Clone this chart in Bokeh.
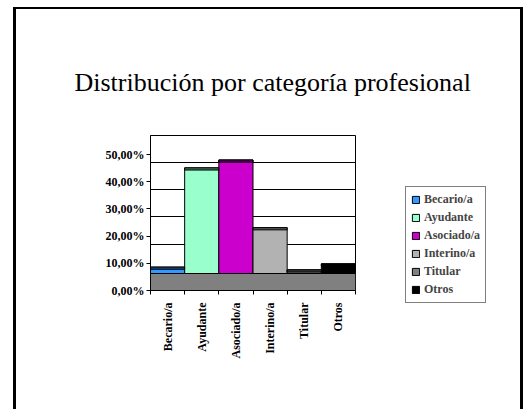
from math import pi
from bokeh.plotting import figure
from bokeh.models import (Range1d, FixedTicker, BoxAnnotation, ColumnDataSource,
                          Legend, LegendItem)
from bokeh.embed import file_html
from bokeh.resources import INLINE

# ---- data ----
categories = ["Becario/a", "Ayudante", "Asociado/a", "Interino/a", "Titular", "Otros"]
values = [8.6, 45.1, 48.0, 23.1, 7.6, 9.8]          # percent
colors = ["#3399FF", "#99FFCC", "#CC00CC", "#B2B2B2", "#808080", "#000000"]
top_colors = ["#1a4d80", "#4d8066", "#660066", "#595959", "#404040", "#000000"]
y_ticks = [0, 10, 20, 30, 40, 50]
y_tick_labels = ["0,00%", "10,00%", "20,00%", "30,00%", "40,00%", "50,00%"]
title_text = "Distribución por categoría profesional"

# ---- style constants (3D look) ----
FLOOR = 6.25      # floor depth in value units
GRID_SHIFT = 2.95 # back-wall gridline shift
STRIP = 0.8       # top face thickness
SERIF = "Liberation Serif"
FS = "12px"

n = len(categories)
xs = [i + 0.5 for i in range(n)]

p = figure(frame_width=205, frame_height=155, output_backend="svg", toolbar_location=None,
           x_range=Range1d(0, n), y_range=Range1d(0, 57),
           min_border_left=150, min_border_right=177,
           min_border_top=135, min_border_bottom=119)
p.background_fill_color = "white"
p.border_fill_alpha = 0
p.outline_line_color = "black"
p.outline_line_width = 1
# slide frame (left, top, right edges; bottom lies outside the view)
p.styles = {"background": (
    "linear-gradient(#000,#000) 13px 7px / 3px 402px no-repeat, "
    "linear-gradient(#000,#000) 13px 7px / 509px 2px no-repeat, "
    "linear-gradient(#000,#000) 520px 7px / 3px 402px no-repeat, #ffffff")}

# floor
p.add_layout(BoxAnnotation(bottom=0, top=FLOOR, fill_color="#808080", fill_alpha=1,
                           line_color="black", line_width=1, level="underlay"))

src = ColumnDataSource(dict(x=xs, top=values, cat=categories, color=colors,
                            bottom=[FLOOR] * n,
                            sbot=[v - STRIP for v in values], tcol=top_colors))
bars = p.vbar(x="x", width=1, bottom="bottom", top="top", fill_color="color",
              line_color="black", line_width=1, source=src)
p.vbar(x="x", width=1, bottom="sbot", top="top", fill_color="tcol",
       line_color="black", line_width=1, source=src)

# grid
p.xgrid.visible = False
p.ygrid.ticker = FixedTicker(ticks=[t - GRID_SHIFT for t in y_ticks[1:]])
p.ygrid.grid_line_color = "black"
p.ygrid.grid_line_width = 1

# y axis
p.yaxis.ticker = FixedTicker(ticks=y_ticks, minor_ticks=[])
p.yaxis.major_label_overrides = {t: l for t, l in zip(y_ticks, y_tick_labels)}
p.yaxis.major_label_text_font = SERIF
p.yaxis.major_label_text_font_style = "bold"
p.yaxis.major_label_text_font_size = FS
p.yaxis.major_label_text_color = "black"
p.yaxis.axis_line_color = "black"
p.yaxis.major_tick_out = 4
p.yaxis.major_tick_in = 0
p.yaxis.major_label_standoff = 2

# x axis
p.xaxis.ticker = FixedTicker(ticks=xs, minor_ticks=list(range(n + 1)))
p.xaxis.major_label_overrides = {x: c for x, c in zip(xs, categories)}
p.xaxis.major_label_orientation = pi / 2
p.xaxis.major_label_text_font = SERIF
p.xaxis.major_label_text_font_style = "bold"
p.xaxis.major_label_text_font_size = FS
p.xaxis.major_label_text_color = "black"
p.xaxis.axis_line_color = "black"
p.xaxis.major_tick_out = 0
p.xaxis.major_tick_in = 0
p.xaxis.minor_tick_out = 4
p.xaxis.minor_tick_in = 0
p.xaxis.minor_tick_line_color = "black"
p.xaxis.major_label_standoff = 8

# legend
items = [LegendItem(label=c, renderers=[bars], index=i) for i, c in enumerate(categories)]
lg = Legend(items=items, location=(50, -13))
lg.border_line_color = "black"
lg.border_line_width = 1
lg.background_fill_color = "white"
lg.background_fill_alpha = 1
lg.label_text_font = SERIF
lg.label_text_font_style = "bold"
lg.label_text_font_size = FS
lg.glyph_width = 9
lg.glyph_height = 9
lg.label_height = 9
lg.spacing = 3
lg.padding = 5
lg.margin = 0
lg.label_standoff = 4
p.add_layout(lg, "right")

# title
p.title.text = title_text
p.title.text_font = SERIF
p.title.text_font_style = "normal"
p.title.text_font_size = "26px"
p.title.text_color = "black"
p.title.align = "left"
p.title.offset = -76
p.title.standoff = 77

open("out.html", "w").write(file_html(p, INLINE))
